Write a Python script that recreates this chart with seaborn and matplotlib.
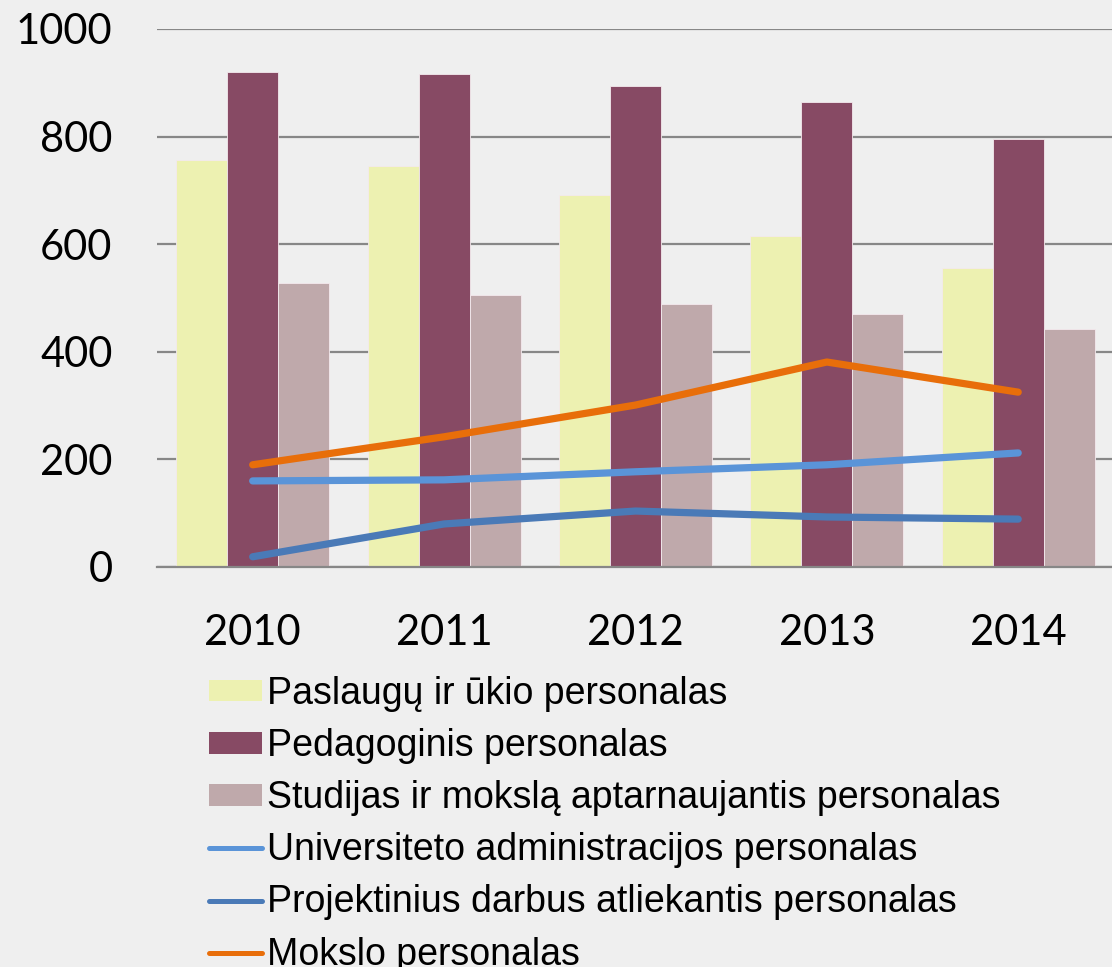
import matplotlib
matplotlib.use('Agg')
import matplotlib.pyplot as plt
import pandas as pd
import seaborn as sns
from matplotlib.patches import Patch
from matplotlib.lines import Line2D

years = ['2010', '2011', '2012', '2013', '2014']

# bar series
bar_names = ['Paslaugų ir ūkio personalas',
             'Pedagoginis personalas',
             'Studijas ir mokslą aptarnaujantis personalas']
paslaugu = [756, 745, 691, 615, 556]
pedagoginis = [920, 916, 894, 864, 795]
studijas = [528, 505, 489, 470, 442]

# line series
line_names = ['Universiteto administracijos personalas',
              'Projektinius darbus atliekantis personalas',
              'Mokslo personalas']
administracija = [160, 162, 177, 190, 212]
projektinis = [19, 80, 104, 93, 89]
mokslo = [190, 242, 301, 381, 325]

bar_colors = ['#EDF1B1', '#874A64', '#BFA9AB']
line_colors = ['#5A94D8', '#4A7AB7', '#E86E0A']

bars = pd.DataFrame({'Metai': years * 3,
                     'Grupe': [n for n in bar_names for _ in years],
                     'Skaicius': paslaugu + pedagoginis + studijas})
lines = pd.DataFrame({'Metai': years * 3,
                      'Grupe': [n for n in line_names for _ in years],
                      'Skaicius': administracija + projektinis + mokslo})

sns.set_style('white')
plt.rcParams['font.family'] = ['Lato', 'DejaVu Sans']
plt.rcParams['text.color'] = 'black'

fig = plt.figure(figsize=(11.12, 9.67), dpi=100, facecolor='#EFEFEF')
ax = fig.add_axes([157 / 1112, 1 - 567 / 967, 1 - 157 / 1112, 538 / 967])
ax.set_facecolor('#EFEFEF')

sns.barplot(data=bars, x='Metai', y='Skaicius', hue='Grupe',
            palette=bar_colors, saturation=1, width=0.8,
            edgecolor='#F4EAEE', linewidth=0.6, legend=False,
            ax=ax, zorder=2)
sns.pointplot(data=lines, x='Metai', y='Skaicius', hue='Grupe',
              palette=line_colors, markers='', linestyles='-',
              errorbar=None, dodge=False, legend=False, ax=ax)
plt.setp(ax.lines, linewidth=5.2, solid_capstyle='round', zorder=4)

ax.set_xlim(-0.5, 4.49)
ax.set_ylim(0, 1000)
ax.set_yticks(range(0, 1001, 200))
ax.yaxis.grid(True, color='#878787', linewidth=1.6, zorder=0)
ax.set_axisbelow(True)
ax.tick_params(axis='both', length=0, labelsize=30, colors='black')
ax.tick_params(axis='y', pad=32)
ax.tick_params(axis='x', pad=34)
ax.set_xlabel('')
ax.set_ylabel('')
for s in ['top', 'right', 'left']:
    ax.spines[s].set_visible(False)
ax.spines['bottom'].set_color('#878787')
ax.spines['bottom'].set_linewidth(1.6)

handles = [Patch(facecolor=c, edgecolor='none') for c in bar_colors]
handles += [Line2D([0], [0], color=c, lw=3.6, solid_capstyle='round') for c in line_colors]
leg = fig.legend(handles, bar_names + line_names, loc='upper left',
                 bbox_to_anchor=(209 / 1112, 1 - 676 / 967), frameon=False,
                 prop={'family': 'Liberation Sans', 'size': 27},
                 handlelength=1.4, handleheight=0.5, handletextpad=0.15,
                 labelspacing=0.43, borderpad=0, borderaxespad=0)
for t in leg.get_texts():
    t.set_color('black')

fig.savefig('out.png', dpi=100, facecolor=fig.get_facecolor())
